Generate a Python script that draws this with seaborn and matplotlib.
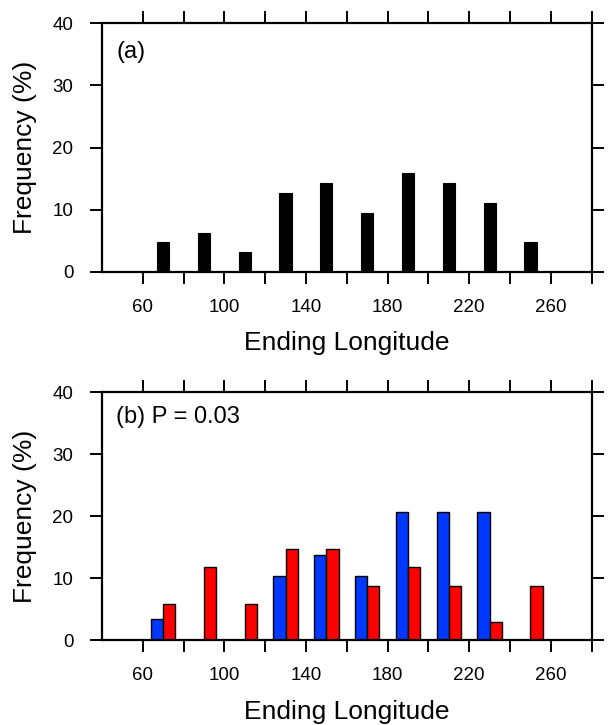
import numpy as np
import pandas as pd
import matplotlib
matplotlib.use("Agg")
import matplotlib.pyplot as plt
import seaborn as sns

# Panel (a): all tracks
lon_a = [70, 90, 110, 130, 150, 170, 190, 210, 230, 250]
freq_a = [4.8, 6.3, 3.2, 12.7, 14.3, 9.5, 15.9, 14.3, 11.1, 4.8]

# Panel (b): two groups
lon_blue = [70, 130, 150, 170, 190, 210, 230]
freq_blue = [3.4, 10.3, 13.8, 10.3, 20.7, 20.7, 20.7]
lon_red = [70, 90, 110, 130, 150, 170, 190, 210, 230, 250]
freq_red = [5.9, 11.8, 5.9, 14.7, 14.7, 8.8, 11.8, 8.8, 2.9, 8.8]

xticks = list(range(60, 281, 20))
xlabels = [str(v) if v <= 260 and (v - 60) % 40 == 0 else "" for v in xticks]
yticks = [0, 10, 20, 30, 40]

sns.set_style("ticks", {"axes.edgecolor": "black", "text.color": "black",
                        "xtick.color": "black", "ytick.color": "black",
                        "axes.labelcolor": "black"})
plt.rcParams["font.family"] = ["Liberation Sans", "DejaVu Sans"]

fig = plt.figure(figsize=(6.1, 7.25), dpi=100)
ax1 = fig.add_axes([0.167, 0.625, 0.803, 0.343])
ax2 = fig.add_axes([0.167, 0.117, 0.803, 0.342])

df_a = pd.DataFrame({"lon": lon_a, "freq": freq_a})
sns.barplot(data=df_a, x="lon", y="freq", native_scale=True, width=0.3,
            color="black", edgecolor="black", linewidth=0.8, saturation=1, ax=ax1)

df_b = pd.concat([
    pd.DataFrame({"lon": lon_blue, "freq": freq_blue, "grp": "blue"}),
    pd.DataFrame({"lon": lon_red, "freq": freq_red, "grp": "red"}),
])
sns.barplot(data=df_b, x="lon", y="freq", hue="grp", hue_order=["blue", "red"],
            palette={"blue": "#0038FF", "red": "#FF0000"}, native_scale=True,
            width=0.6, dodge=True, edgecolor="black", linewidth=1.0,
            saturation=1, legend=False, ax=ax2)

for ax, tag, ty in [(ax1, "(a)", 0.884), (ax2, "(b) P = 0.03", 0.90)]:
    ax.set_xlim(40, 280)
    ax.set_ylim(0, 40)
    ax.set_xticks(xticks)
    ax.set_xticklabels(xlabels)
    ax.set_yticks(yticks)
    for s in ax.spines.values():
        s.set_visible(True)
        s.set_linewidth(1.6)
        s.set_color("black")
    ax.tick_params(axis="both", which="major", direction="out", length=8.5,
                   width=1.4, labelsize=13.5, top=True, right=True,
                   labeltop=False, labelright=False, colors="black")
    ax.tick_params(axis="x", pad=11)
    ax.tick_params(axis="y", pad=12)
    ax.set_xlabel("Ending Longitude", fontsize=19, labelpad=11)
    ax.set_ylabel("Frequency (%)", fontsize=19, labelpad=11)
    ax.text(0.029, ty, tag, transform=ax.transAxes, fontsize=17, va="center")

fig.savefig("out.png", dpi=100)
